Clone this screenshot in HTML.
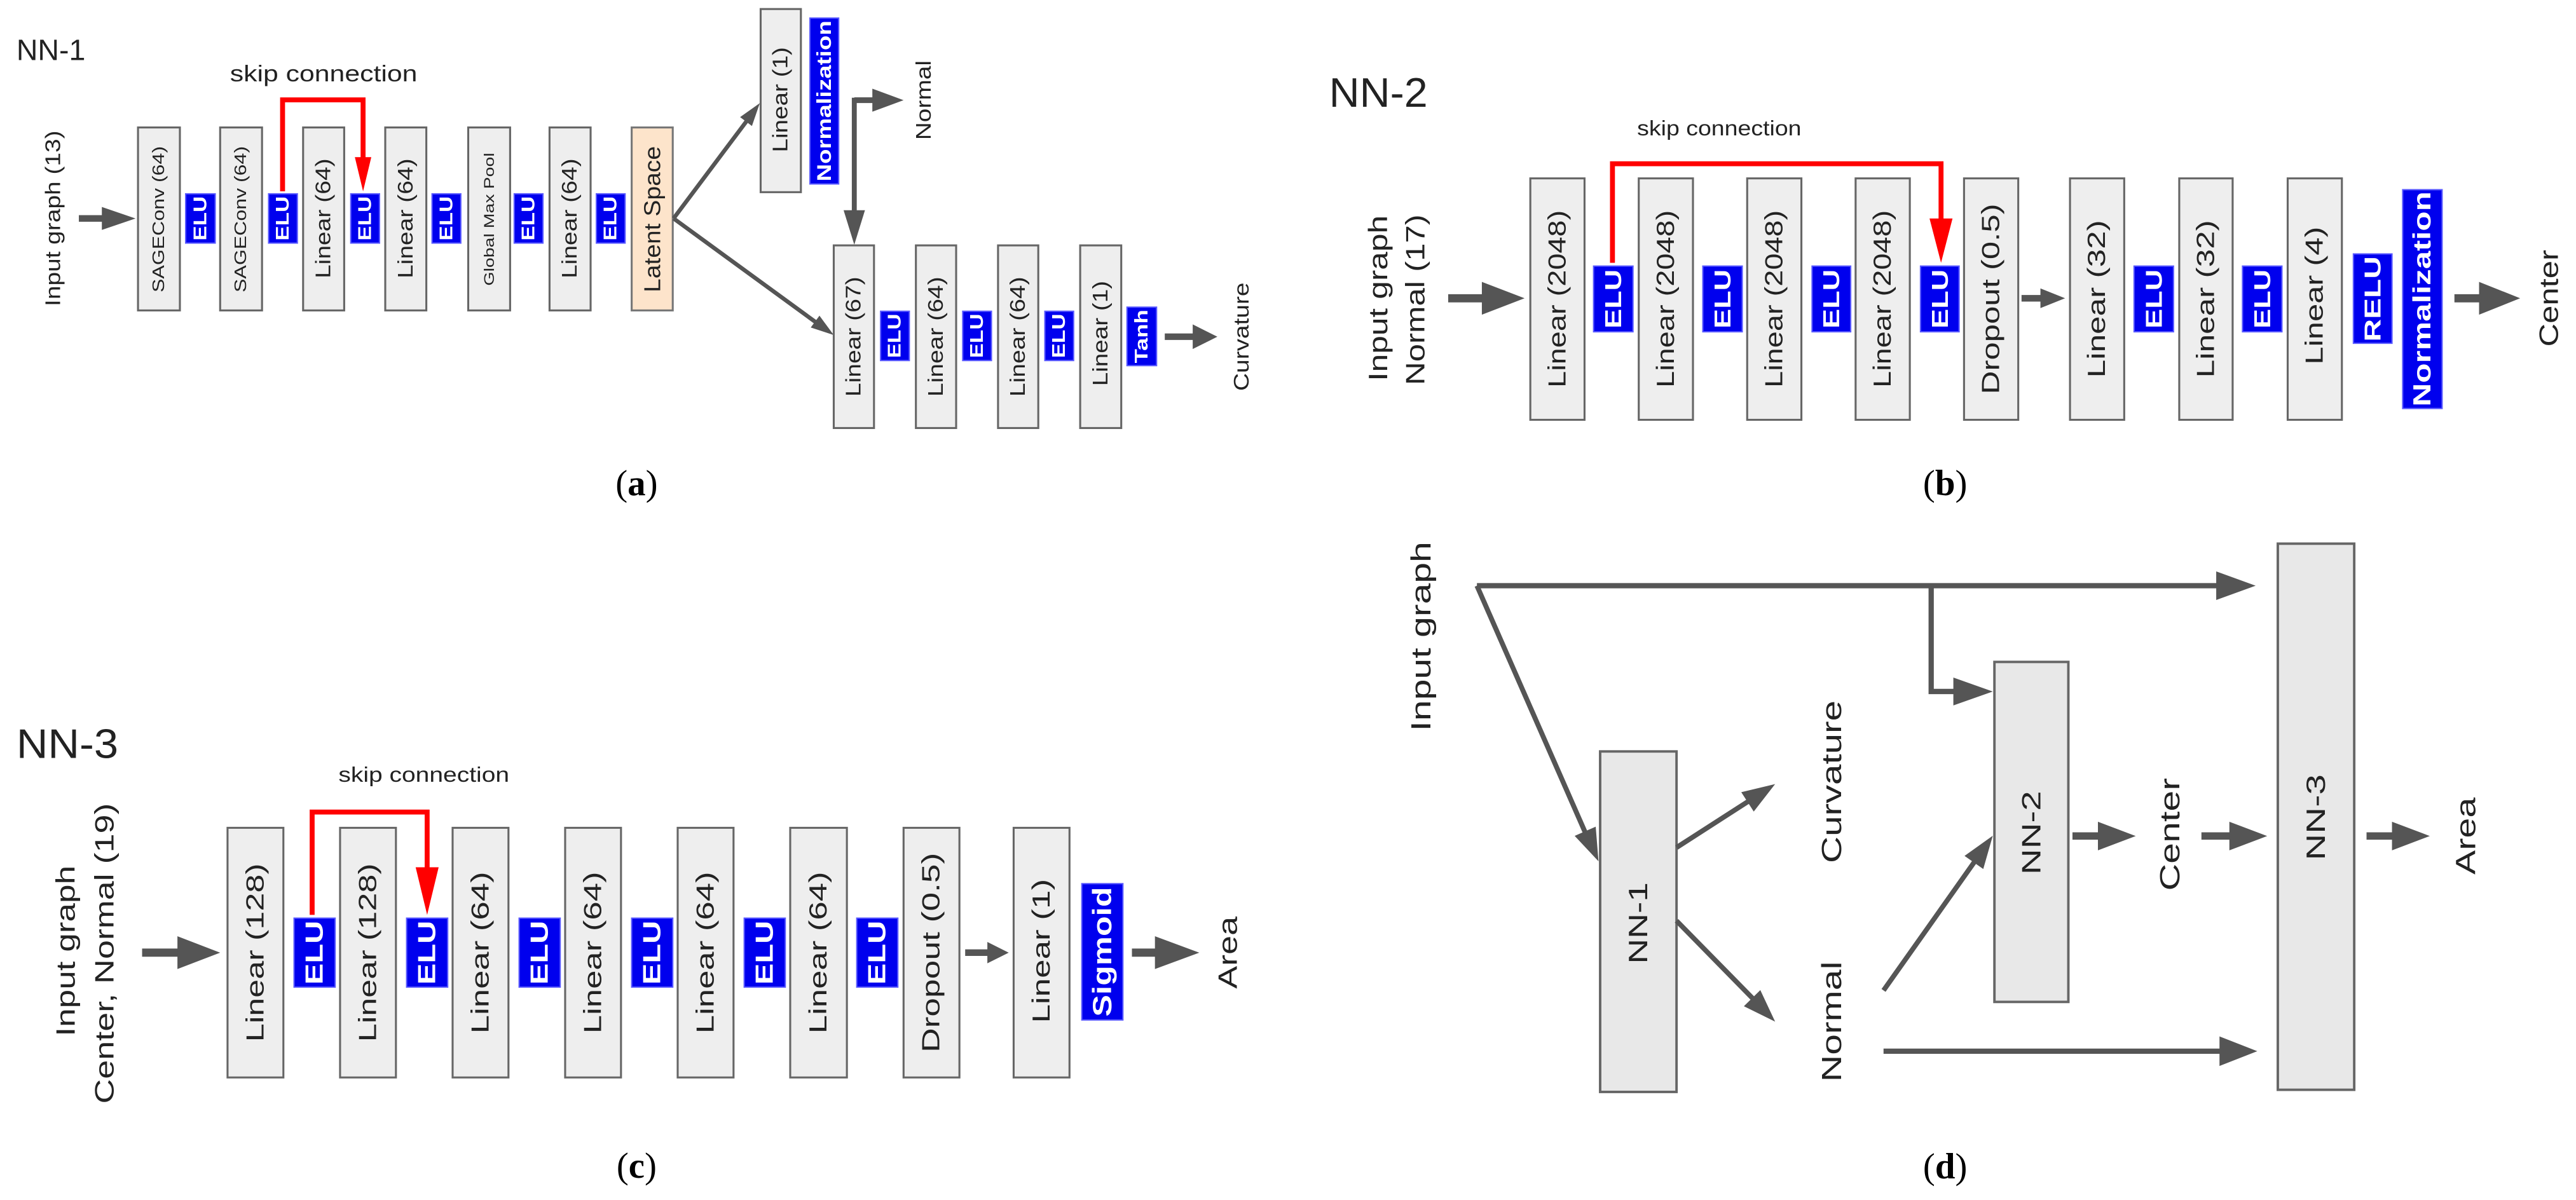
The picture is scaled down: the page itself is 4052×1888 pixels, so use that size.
<!DOCTYPE html>
<html><head><meta charset="utf-8"><style>
html,body{margin:0;padding:0;background:#fff;}
svg{display:block;}
text{font-family:"Liberation Sans",Arial,sans-serif;fill:#222;}
.r{text-anchor:middle;dominant-baseline:central;}
.w{fill:#fff;font-weight:bold;}
.b{fill:#eeeeee;stroke:#666;stroke-width:1.2;}
.d{fill:#e8e8e8;stroke:#666;stroke-width:1.5;}
.e{fill:#0000ee;stroke:#5a5aff;stroke-width:0.8;}
.g{stroke:#555;fill:none;}
.h{fill:#555;}
.red{stroke:#ff0000;fill:none;stroke-width:3;}
.lab{font-family:"Liberation Serif",serif;font-size:22px;text-anchor:middle;fill:#000;}
</style></head><body>
<svg width="4052" height="1888" viewBox="0 0 1568 730.6" preserveAspectRatio="none" xmlns="http://www.w3.org/2000/svg">
<rect x="0" y="0" width="1568" height="730.6" fill="#fff"/>

<!-- ============ PANEL A ============ -->
<text x="10" y="36.5" font-size="18" textLength="42" lengthAdjust="spacingAndGlyphs">NN-1</text>
<text x="140" y="49.5" font-size="14" textLength="114" lengthAdjust="spacingAndGlyphs">skip connection</text>
<text class="r" transform="translate(32.5,133) rotate(-90)" font-size="13" textLength="107" lengthAdjust="spacingAndGlyphs">Input graph (13)</text>
<line class="g" x1="48" y1="133" x2="63" y2="133" stroke-width="4"/>
<polygon class="h" points="62,126 62,140 82.5,133"/>

<rect class="b" x="84" y="77.6" width="25.5" height="111.4"/>
<text class="r" transform="translate(96.75,133.5) rotate(-90)" font-size="10" textLength="89" lengthAdjust="spacingAndGlyphs">SAGEConv (64)</text>
<rect class="e" x="113" y="118" width="18" height="30"/>
<text class="r w" transform="translate(122,133) rotate(-90)" font-size="11" textLength="27" lengthAdjust="spacingAndGlyphs">ELU</text>
<rect class="b" x="134" y="77.6" width="25.5" height="111.4"/>
<text class="r" transform="translate(146.75,133.5) rotate(-90)" font-size="10" textLength="89" lengthAdjust="spacingAndGlyphs">SAGEConv (64)</text>
<rect class="e" x="163.5" y="118" width="17.5" height="30"/>
<text class="r w" transform="translate(172.25,133) rotate(-90)" font-size="11" textLength="27" lengthAdjust="spacingAndGlyphs">ELU</text>
<rect class="b" x="184.5" y="77.6" width="25" height="111.4"/>
<text class="r" transform="translate(197,133) rotate(-90)" font-size="13" textLength="73" lengthAdjust="spacingAndGlyphs">Linear (64)</text>
<rect class="e" x="213.5" y="118" width="17.5" height="30"/>
<text class="r w" transform="translate(222.25,133) rotate(-90)" font-size="11" textLength="27" lengthAdjust="spacingAndGlyphs">ELU</text>
<rect class="b" x="234.5" y="77.6" width="25" height="111.4"/>
<text class="r" transform="translate(247,133) rotate(-90)" font-size="13" textLength="73" lengthAdjust="spacingAndGlyphs">Linear (64)</text>
<rect class="e" x="263" y="118" width="17.5" height="30"/>
<text class="r w" transform="translate(271.75,133) rotate(-90)" font-size="11" textLength="27" lengthAdjust="spacingAndGlyphs">ELU</text>
<rect class="b" x="285" y="77.6" width="25.5" height="111.4"/>
<text class="r" transform="translate(297.75,133.5) rotate(-90)" font-size="8.5" textLength="81" lengthAdjust="spacingAndGlyphs">Global Max Pool</text>
<rect class="e" x="313" y="118" width="17.5" height="30"/>
<text class="r w" transform="translate(321.75,133) rotate(-90)" font-size="11" textLength="27" lengthAdjust="spacingAndGlyphs">ELU</text>
<rect class="b" x="334.5" y="77.6" width="25" height="111.4"/>
<text class="r" transform="translate(347,133) rotate(-90)" font-size="13" textLength="73" lengthAdjust="spacingAndGlyphs">Linear (64)</text>
<rect class="e" x="363" y="118" width="17.5" height="30"/>
<text class="r w" transform="translate(371.75,133) rotate(-90)" font-size="11" textLength="27" lengthAdjust="spacingAndGlyphs">ELU</text>
<rect x="384.5" y="77.6" width="25" height="111.4" fill="#fde4cb" stroke="#777" stroke-width="1.2"/>
<text class="r" transform="translate(397,133.5) rotate(-90)" font-size="14" textLength="89" lengthAdjust="spacingAndGlyphs">Latent Space</text>

<polyline class="red" points="172,116.5 172,60.8 221,60.8 221,96" stroke-width="2.5"/>
<polygon fill="#ff0000" points="216,95.7 226,95.7 221,116.5"/>

<line class="g" x1="410" y1="133" x2="455" y2="73" stroke-width="2.5"/>
<polygon class="h" points="457.7,76.7 450.5,71.3 462.5,62.8"/>
<line class="g" x1="410" y1="133" x2="497" y2="196.5" stroke-width="2.5"/>
<polygon class="h" points="493.5,199.4 498.8,192.2 507.5,204"/>

<rect class="b" x="463" y="5.5" width="24.5" height="111.5"/>
<text class="r" transform="translate(475.25,60.7) rotate(-90)" font-size="13" textLength="64" lengthAdjust="spacingAndGlyphs">Linear (1)</text>
<rect class="e" x="493" y="11" width="17.5" height="101"/>
<text class="r w" transform="translate(501.75,61.5) rotate(-90)" font-size="12" textLength="98" lengthAdjust="spacingAndGlyphs">Normalization</text>

<line class="g" x1="520" y1="61" x2="532" y2="61" stroke-width="3.5"/>
<polygon class="h" points="531,54 531,68 550,61"/>
<line class="g" x1="520" y1="59.5" x2="520" y2="130" stroke-width="3"/>
<polygon class="h" points="513.5,128 526.5,128 520,149"/>
<text class="r" transform="translate(562.5,61) rotate(-90)" font-size="13" textLength="48.5" lengthAdjust="spacingAndGlyphs">Normal</text>

<rect class="b" x="507.5" y="149.4" width="24.5" height="111.2"/>
<text class="r" transform="translate(519.75,205) rotate(-90)" font-size="13" textLength="73" lengthAdjust="spacingAndGlyphs">Linear (67)</text>
<rect class="e" x="536" y="189.5" width="17.5" height="30"/>
<text class="r w" transform="translate(544.75,204.5) rotate(-90)" font-size="11" textLength="27" lengthAdjust="spacingAndGlyphs">ELU</text>
<rect class="b" x="557.5" y="149.4" width="24.5" height="111.2"/>
<text class="r" transform="translate(569.75,205) rotate(-90)" font-size="13" textLength="73" lengthAdjust="spacingAndGlyphs">Linear (64)</text>
<rect class="e" x="586" y="189.5" width="17.5" height="30"/>
<text class="r w" transform="translate(594.75,204.5) rotate(-90)" font-size="11" textLength="27" lengthAdjust="spacingAndGlyphs">ELU</text>
<rect class="b" x="607.5" y="149.4" width="24.5" height="111.2"/>
<text class="r" transform="translate(619.75,205) rotate(-90)" font-size="13" textLength="73" lengthAdjust="spacingAndGlyphs">Linear (64)</text>
<rect class="e" x="636" y="189.5" width="17.5" height="30"/>
<text class="r w" transform="translate(644.75,204.5) rotate(-90)" font-size="11" textLength="27" lengthAdjust="spacingAndGlyphs">ELU</text>
<rect class="b" x="657.5" y="149.4" width="25" height="111.2"/>
<text class="r" transform="translate(670,203) rotate(-90)" font-size="13" textLength="64" lengthAdjust="spacingAndGlyphs">Linear (1)</text>
<rect class="e" x="686" y="187" width="18" height="35.6"/>
<text class="r w" transform="translate(695,204.8) rotate(-90)" font-size="11" textLength="32.6" lengthAdjust="spacingAndGlyphs">Tanh</text>
<line class="g" x1="709" y1="205" x2="727" y2="205" stroke-width="4"/>
<polygon class="h" points="726,197.5 726,212.5 741,205"/>
<text class="r" transform="translate(756,205) rotate(-90)" font-size="13" textLength="66" lengthAdjust="spacingAndGlyphs">Curvature</text>

<text class="lab" x="387.5" y="301.5">(<tspan font-weight="bold">a</tspan>)</text>

<!-- ============ PANEL B ============ -->
<text x="809" y="65" font-size="25" textLength="60" lengthAdjust="spacingAndGlyphs">NN-2</text>
<text x="996.5" y="82.5" font-size="13" textLength="100" lengthAdjust="spacingAndGlyphs">skip connection</text>
<text class="r" transform="translate(839,181.6) rotate(-90)" font-size="16" textLength="101" lengthAdjust="spacingAndGlyphs">Input graph</text>
<text class="r" transform="translate(861.5,182.5) rotate(-90)" font-size="16" textLength="104" lengthAdjust="spacingAndGlyphs">Normal (17)</text>
<line class="g" x1="881.5" y1="181.6" x2="903" y2="181.6" stroke-width="5"/>
<polygon class="h" points="902,171.6 902,191.6 928,181.6"/>

<rect class="b" x="931.5" y="108.6" width="33" height="147"/>
<text class="r" transform="translate(948,182) rotate(-90)" font-size="15" textLength="108" lengthAdjust="spacingAndGlyphs">Linear (2048)</text>
<rect class="e" x="970" y="162" width="24" height="40"/>
<text class="r w" transform="translate(982,182) rotate(-90)" font-size="14" textLength="36" lengthAdjust="spacingAndGlyphs">ELU</text>
<rect class="b" x="997.5" y="108.6" width="33" height="147"/>
<text class="r" transform="translate(1014,182) rotate(-90)" font-size="15" textLength="108" lengthAdjust="spacingAndGlyphs">Linear (2048)</text>
<rect class="e" x="1036.5" y="162" width="24" height="40"/>
<text class="r w" transform="translate(1048.5,182) rotate(-90)" font-size="14" textLength="36" lengthAdjust="spacingAndGlyphs">ELU</text>
<rect class="b" x="1063.5" y="108.6" width="33" height="147"/>
<text class="r" transform="translate(1080,182) rotate(-90)" font-size="15" textLength="108" lengthAdjust="spacingAndGlyphs">Linear (2048)</text>
<rect class="e" x="1103" y="162" width="23.5" height="40"/>
<text class="r w" transform="translate(1114.75,182) rotate(-90)" font-size="14" textLength="36" lengthAdjust="spacingAndGlyphs">ELU</text>
<rect class="b" x="1129.5" y="108.6" width="33" height="147"/>
<text class="r" transform="translate(1146,182) rotate(-90)" font-size="15" textLength="108" lengthAdjust="spacingAndGlyphs">Linear (2048)</text>
<rect class="e" x="1169" y="162" width="23.5" height="40"/>
<text class="r w" transform="translate(1180.75,182) rotate(-90)" font-size="14" textLength="36" lengthAdjust="spacingAndGlyphs">ELU</text>
<rect class="b" x="1195.5" y="108.6" width="33" height="147"/>
<text class="r" transform="translate(1212,182) rotate(-90)" font-size="15" textLength="116" lengthAdjust="spacingAndGlyphs">Dropout (0.5)</text>
<line class="g" x1="1230.5" y1="181.6" x2="1243" y2="181.6" stroke-width="4"/>
<polygon class="h" points="1242,175.6 1242,187.6 1257,181.6"/>
<rect class="b" x="1260" y="108.6" width="33" height="147"/>
<text class="r" transform="translate(1276.5,182) rotate(-90)" font-size="15" textLength="96" lengthAdjust="spacingAndGlyphs">Linear (32)</text>
<rect class="e" x="1299" y="162" width="24" height="40"/>
<text class="r w" transform="translate(1311,182) rotate(-90)" font-size="14" textLength="36" lengthAdjust="spacingAndGlyphs">ELU</text>
<rect class="b" x="1326.5" y="108.6" width="32.5" height="147"/>
<text class="r" transform="translate(1342.75,182) rotate(-90)" font-size="15" textLength="96" lengthAdjust="spacingAndGlyphs">Linear (32)</text>
<rect class="e" x="1365" y="162" width="24" height="40"/>
<text class="r w" transform="translate(1377,182) rotate(-90)" font-size="14" textLength="36" lengthAdjust="spacingAndGlyphs">ELU</text>
<rect class="b" x="1392.5" y="108.6" width="33" height="147"/>
<text class="r" transform="translate(1409,180) rotate(-90)" font-size="15" textLength="84" lengthAdjust="spacingAndGlyphs">Linear (4)</text>
<rect class="e" x="1432.5" y="154.6" width="23.5" height="54.4"/>
<text class="r w" transform="translate(1444.25,182) rotate(-90)" font-size="14" textLength="52" lengthAdjust="spacingAndGlyphs">RELU</text>
<rect class="e" x="1462.5" y="115.5" width="24" height="133.2"/>
<text class="r w" transform="translate(1474.5,182) rotate(-90)" font-size="15" textLength="131" lengthAdjust="spacingAndGlyphs">Normalization</text>
<line class="g" x1="1494" y1="181.6" x2="1510" y2="181.6" stroke-width="5"/>
<polygon class="h" points="1509,171.6 1509,191.6 1534,181.6"/>
<text class="r" transform="translate(1551.5,181.6) rotate(-90)" font-size="16" textLength="59" lengthAdjust="spacingAndGlyphs">Center</text>

<polyline class="red" points="981.5,160 981.5,99.7 1181.5,99.7 1181.5,134" stroke-width="3.5"/>
<polygon fill="#ff0000" points="1174.5,133 1188.5,133 1181.5,160"/>

<text class="lab" x="1184" y="301.5">(<tspan font-weight="bold">b</tspan>)</text>

<!-- ============ PANEL C ============ -->
<text x="10" y="461.5" font-size="25" textLength="62" lengthAdjust="spacingAndGlyphs">NN-3</text>
<text x="206" y="476" font-size="13" textLength="104" lengthAdjust="spacingAndGlyphs">skip connection</text>
<text class="r" transform="translate(40,579) rotate(-90)" font-size="16" textLength="104" lengthAdjust="spacingAndGlyphs">Input graph</text>
<text class="r" transform="translate(63.75,580.5) rotate(-90)" font-size="16" textLength="183" lengthAdjust="spacingAndGlyphs">Center, Normal (19)</text>
<line class="g" x1="86.5" y1="580" x2="109" y2="580" stroke-width="5"/>
<polygon class="h" points="108,570 108,590 134,580"/>

<rect class="b" x="138.5" y="504" width="34" height="152"/>
<text class="r" transform="translate(155.5,580) rotate(-90)" font-size="15" textLength="108.7" lengthAdjust="spacingAndGlyphs">Linear (128)</text>
<rect class="e" x="179" y="559" width="25" height="42"/>
<text class="r w" transform="translate(191.5,580) rotate(-90)" font-size="15" textLength="39" lengthAdjust="spacingAndGlyphs">ELU</text>
<rect class="b" x="207" y="504" width="34" height="152"/>
<text class="r" transform="translate(224,580) rotate(-90)" font-size="15" textLength="108.7" lengthAdjust="spacingAndGlyphs">Linear (128)</text>
<rect class="e" x="247.5" y="559" width="25" height="42"/>
<text class="r w" transform="translate(260,580) rotate(-90)" font-size="15" textLength="39" lengthAdjust="spacingAndGlyphs">ELU</text>
<rect class="b" x="275.5" y="504" width="34" height="152"/>
<text class="r" transform="translate(292.5,580) rotate(-90)" font-size="15" textLength="98.6" lengthAdjust="spacingAndGlyphs">Linear (64)</text>
<rect class="e" x="316" y="559" width="25" height="42"/>
<text class="r w" transform="translate(328.5,580) rotate(-90)" font-size="15" textLength="39" lengthAdjust="spacingAndGlyphs">ELU</text>
<rect class="b" x="344" y="504" width="34" height="152"/>
<text class="r" transform="translate(361,580) rotate(-90)" font-size="15" textLength="98.6" lengthAdjust="spacingAndGlyphs">Linear (64)</text>
<rect class="e" x="384.5" y="559" width="25" height="42"/>
<text class="r w" transform="translate(397,580) rotate(-90)" font-size="15" textLength="39" lengthAdjust="spacingAndGlyphs">ELU</text>
<rect class="b" x="412.5" y="504" width="34" height="152"/>
<text class="r" transform="translate(429.5,580) rotate(-90)" font-size="15" textLength="98.6" lengthAdjust="spacingAndGlyphs">Linear (64)</text>
<rect class="e" x="453" y="559" width="25" height="42"/>
<text class="r w" transform="translate(465.5,580) rotate(-90)" font-size="15" textLength="39" lengthAdjust="spacingAndGlyphs">ELU</text>
<rect class="b" x="481" y="504" width="34.5" height="152"/>
<text class="r" transform="translate(498.25,580) rotate(-90)" font-size="15" textLength="98.6" lengthAdjust="spacingAndGlyphs">Linear (64)</text>
<rect class="e" x="521.5" y="559" width="25" height="42"/>
<text class="r w" transform="translate(534,580) rotate(-90)" font-size="15" textLength="39" lengthAdjust="spacingAndGlyphs">ELU</text>
<rect class="b" x="550" y="504" width="34" height="152"/>
<text class="r" transform="translate(567,580) rotate(-90)" font-size="15" textLength="121.6" lengthAdjust="spacingAndGlyphs">Dropout (0.5)</text>
<line class="g" x1="587.5" y1="580" x2="602" y2="580" stroke-width="4"/>
<polygon class="h" points="601,573.5 601,586.5 614,580"/>
<rect class="b" x="617" y="504" width="34" height="152"/>
<text class="r" transform="translate(634,579) rotate(-90)" font-size="15" textLength="87.7" lengthAdjust="spacingAndGlyphs">Linear (1)</text>
<rect class="e" x="658.5" y="538" width="25" height="83"/>
<text class="r w" transform="translate(671,579.5) rotate(-90)" font-size="16" textLength="79" lengthAdjust="spacingAndGlyphs">Sigmoid</text>
<line class="g" x1="689" y1="580" x2="704" y2="580" stroke-width="5"/>
<polygon class="h" points="703,570 703,590 730,580"/>
<text class="r" transform="translate(747.5,580) rotate(-90)" font-size="16" textLength="44" lengthAdjust="spacingAndGlyphs">Area</text>

<polyline class="red" points="190,557 190,494.4 260,494.4 260,529" stroke-width="3.5"/>
<polygon fill="#ff0000" points="253,528 267,528 260,557"/>

<text class="lab" x="387.5" y="717">(<tspan font-weight="bold">c</tspan>)</text>

<!-- ============ PANEL D ============ -->
<text class="r" transform="translate(865,387.5) rotate(-90)" font-size="17" textLength="115.5" lengthAdjust="spacingAndGlyphs">Input graph</text>
<line class="g" x1="899" y1="356.6" x2="1350" y2="356.6" stroke-width="3.2"/>
<polygon class="h" points="1349,347.9 1349,365.3 1373,356.6"/>
<polyline class="g" points="1175.5,356.6 1175.5,421 1190,421" stroke-width="3.2"/>
<polygon class="h" points="1189,412.5 1189,429.5 1213,421"/>
<line class="g" x1="899" y1="356.6" x2="965" y2="507" stroke-width="3"/>
<polygon class="h" points="958.5,508.9 971.3,503.3 973,524.4"/>

<rect class="d" x="974" y="457.5" width="46.5" height="207.3"/>
<text class="r" transform="translate(997.25,562) rotate(-90)" font-size="16" textLength="49.7" lengthAdjust="spacingAndGlyphs">NN-1</text>

<line class="g" x1="1020.5" y1="516" x2="1064" y2="488" stroke-width="3"/>
<polygon class="h" points="1067.5,494.1 1059.9,482.3 1080.5,477.4"/>
<line class="g" x1="1020.5" y1="560.6" x2="1067" y2="608" stroke-width="3"/>
<polygon class="h" points="1061.5,612.6 1071.5,602.8 1080.5,622"/>
<text class="r" transform="translate(1115,476) rotate(-90)" font-size="17" textLength="99" lengthAdjust="spacingAndGlyphs">Curvature</text>
<text class="r" transform="translate(1115,622) rotate(-90)" font-size="17" textLength="73.5" lengthAdjust="spacingAndGlyphs">Normal</text>
<line class="g" x1="1146.5" y1="603" x2="1202" y2="524.5" stroke-width="3"/>
<polygon class="h" points="1207.2,529.1 1195.8,521.1 1213,508.8"/>
<line class="g" x1="1146.5" y1="640" x2="1352" y2="640" stroke-width="3.2"/>
<polygon class="h" points="1351,631 1351,649 1374,640"/>

<rect class="d" x="1214" y="403" width="45" height="207"/>
<text class="r" transform="translate(1236.5,507) rotate(-90)" font-size="16" textLength="51" lengthAdjust="spacingAndGlyphs">NN-2</text>
<line class="g" x1="1261.5" y1="509" x2="1278" y2="509" stroke-width="4.5"/>
<polygon class="h" points="1277,500.3 1277,517.7 1300,509"/>
<text class="r" transform="translate(1321,508) rotate(-90)" font-size="17" textLength="68.7" lengthAdjust="spacingAndGlyphs">Center</text>
<line class="g" x1="1340" y1="509" x2="1358" y2="509" stroke-width="4.5"/>
<polygon class="h" points="1357,500.3 1357,517.7 1380,509"/>

<rect class="d" x="1386.5" y="331" width="46.5" height="332.5"/>
<text class="r" transform="translate(1409.75,497.6) rotate(-90)" font-size="16" textLength="52.4" lengthAdjust="spacingAndGlyphs">NN-3</text>
<line class="g" x1="1440.5" y1="509" x2="1457" y2="509" stroke-width="4.5"/>
<polygon class="h" points="1456,500.3 1456,517.7 1479,509"/>
<text class="r" transform="translate(1501,509) rotate(-90)" font-size="17" textLength="47" lengthAdjust="spacingAndGlyphs">Area</text>

<text class="lab" x="1184" y="717.5">(<tspan font-weight="bold">d</tspan>)</text>
</svg>
</body></html>
